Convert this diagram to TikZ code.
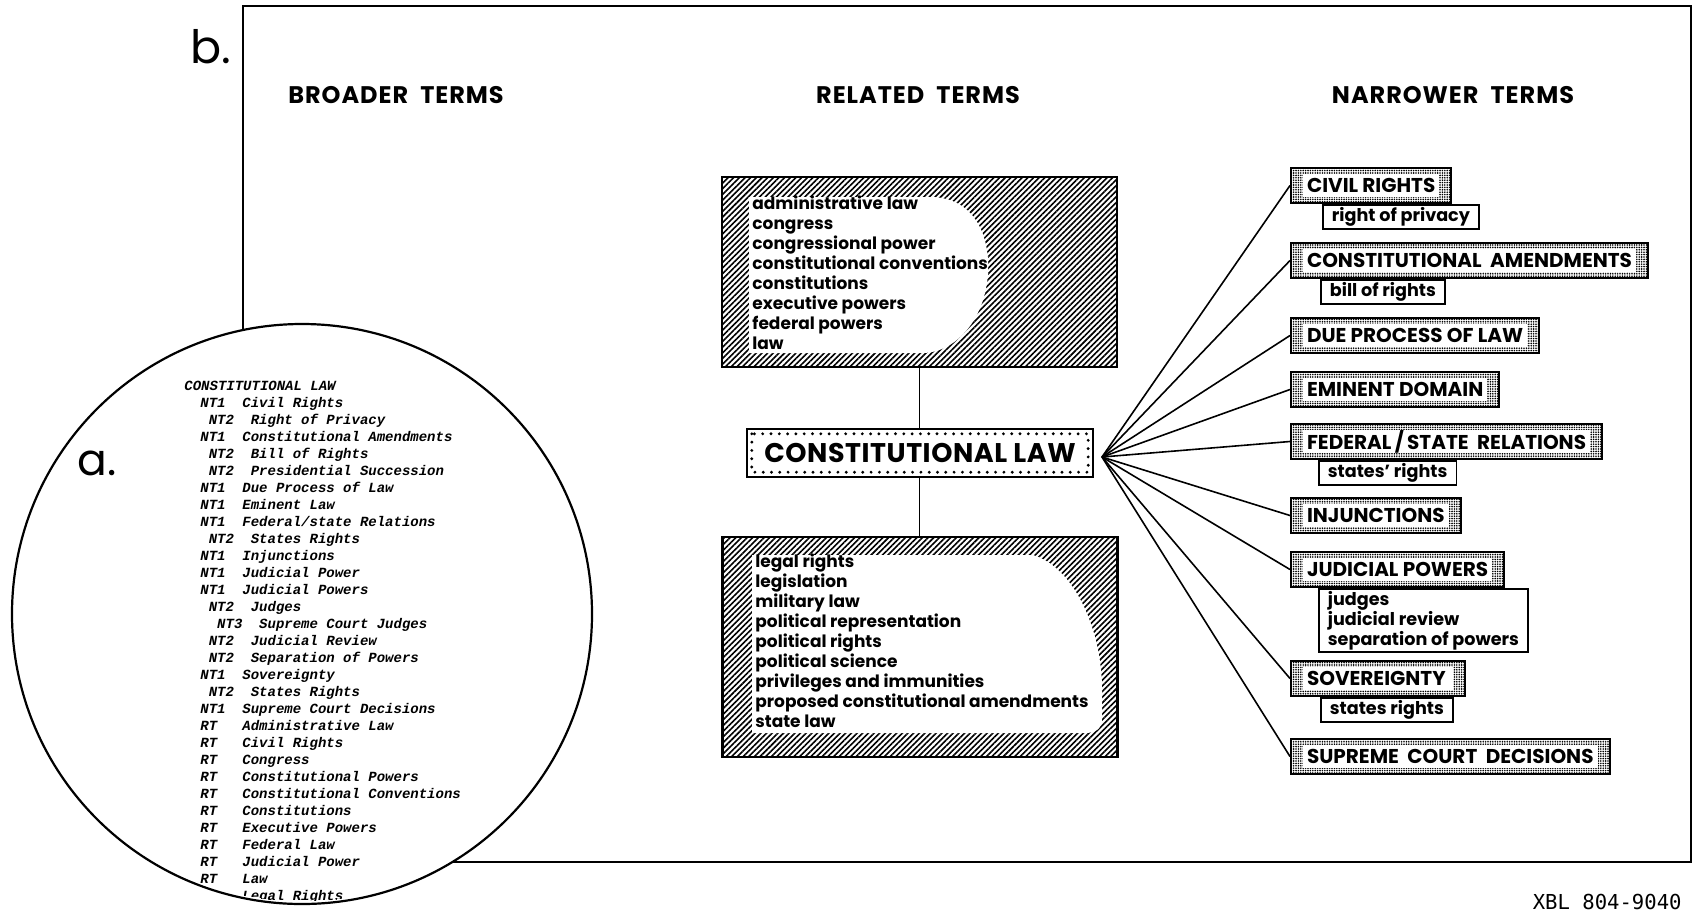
\documentclass[tikz,border=0pt]{standalone}
\usepackage{fontspec}
\setmainfont{Poppins}
\newfontfamily\typewr{Liberation Mono}
\newfontfamily\codefont{DejaVu Sans Mono}
\usetikzlibrary{positioning,patterns.meta}

\begin{document}
\begin{tikzpicture}[
		x=0.5pt,
		y=-0.5pt,
		hatchbox/.style={
			draw,
			line width=1.2pt,
			pattern={Lines[angle=45,distance=2pt,line width=0.8pt]},
			minimum width=197.5pt,
			inner sep=0pt
		},
		item/.style={
			anchor=base west,
			inner sep=0pt,
			font=\bfseries\fontsize{8.5}{10}\selectfont
		},
		ntbox/.style={
			draw,
			line width=1pt,
			anchor=north west,
			pattern={Dots[distance=1.2pt,radius=0.45pt]},
			path picture={
				\fill[white] ([xshift=6pt,yshift=-3pt]path picture bounding box.north west)
					rectangle ([xshift=-6pt,yshift=3pt]path picture bounding box.south east);
			},
			minimum height=17.5pt,
			inner xsep=8pt,
			inner ysep=0pt,
			font=\bfseries\fontsize{10}{12}\selectfont
		},
		subbox/.style={
			draw,
			line width=0.9pt,
			fill=white,
			minimum height=12pt,
			inner xsep=4.5pt,
			inner ysep=1pt,
			align=left,
			font=\bfseries\fontsize{8.8}{10}\selectfont
		},
		clbox/.style={
			draw,
			line width=0.9pt,
			minimum width=173pt,
			minimum height=24pt,
			path picture={
				\draw[line width=1.6pt,line cap=round,dash pattern=on 0pt off 4.15pt]
					([xshift=2.4pt,yshift=-2.4pt]path picture bounding box.north west)
					rectangle ([xshift=-2.4pt,yshift=2.4pt]path picture bounding box.south east);
			},
			font=\bfseries\fontsize{13.5}{16}\selectfont\addfontfeature{LetterSpace=2}
		},
		head/.style={
			font=\bfseries\fontsize{12}{14}\selectfont\addfontfeature{LetterSpace=4}
		},
		thes/.style={
			anchor=base west,
			inner sep=0pt,
			font=\typewr\bfseries\itshape\fontsize{7}{8.5}\selectfont
		},
		conn/.style={line width=0.8pt}
		]
		\useasboundingbox (0,0) rectangle (1693,917);

		% frame of part b
		\draw[line width=1pt] (243,6) rectangle (1691,862);
		\node[anchor=base west,inner sep=0pt,font=\fontsize{23}{26}\selectfont] (lbl-b) at (190,63) {b.};

		\node[head] (broader) at (396,95) {BROADER\ \ TERMS};
		\node[head] (related) at (918,95) {RELATED\ \ TERMS};
		\node[head] (narrower) at (1453,95) {NARROWER\ \ TERMS};

		% related terms
		\node[hatchbox,minimum height=95pt] (rt-up) at (919.5,272) {};
		\fill[white] (749,197) -- (930,197) .. controls (975,197) and (990,237) .. (988,272)
			.. controls (986,317) and (957,353) .. (922,353) -- (749,353) -- cycle;
		\foreach \t [count=\i] in {administrative law,congress,congressional power,
			constitutional conventions,constitutions,executive powers,federal powers,law}
		\node[item] (up-\i) at (752,{209+20*(\i-1)}) {\t};

		\node[hatchbox,minimum height=110pt] (rt-low) at (920,647) {};
		\fill[white] (752,555) -- (1033,555) .. controls (1073,567) and (1101,627) .. (1102,687)
			-- (1102,719) .. controls (1102,729) and (1095,733) .. (1085,733) -- (752,733) -- cycle;
		\foreach \t [count=\i] in {legal rights,legislation,military law,political representation,
			political rights,political science,privileges and immunities,
			proposed constitutional amendments,state law}
		\node[item] (low-\i) at (755,{567+20*(\i-1)}) {\t};

		\node[clbox] (cl) at (920,453) {CONSTITUTIONAL LAW};
		\draw[conn] (rt-up.south) -- (rt-up.south |- cl.north);
		\draw[conn] (rt-up.south |- cl.south) -- (rt-up.south |- rt-low.north);

		% narrower terms
		\foreach \ny/\nt [count=\ni] in {167/CIVIL RIGHTS,242/CONSTITUTIONAL\ \ AMENDMENTS,
			317/DUE PROCESS OF\ LAW,371/EMINENT DOMAIN,423/{FEDERAL\,/\,STATE\ \ RELATIONS},
			497/INJUNCTIONS,551/JUDICIAL POWERS,660/SOVEREIGNTY\,,738/SUPREME\ \ COURT\ \ DECISIONS}
		\node[ntbox] (nt-\ni) at (1290,\ny) {\nt};

		\node[subbox,below right=0pt and 16pt of nt-1.south west] (sub-1) {right of privacy};
		\node[subbox,below right=0pt and 15pt of nt-2.south west] (sub-2) {bill of rights};
		\node[subbox,below right=0pt and 14pt of nt-5.south west] (sub-5) {states’ rights};
		\node[subbox,below right=0pt and 14pt of nt-7.south west] (sub-7) {judges\\judicial review\\separation of powers};
		\node[subbox,below right=0pt and 15pt of nt-8.south west] (sub-8) {states rights};

		\coordinate (hub) at (1102,457);
		\foreach \ni in {1,...,9}
		\draw[conn] (hub) -- (nt-\ni.west);

		% part a, thesaurus print-out
		\coordinate (cc) at (302,614);
		\draw[line width=1.1pt,fill=white] (cc) circle[radius=145pt];
		\node[anchor=base west,inner sep=0pt,font=\fontsize{22}{26}\selectfont] (lbl-a) at (77,475) {a.};
		\begin{scope}
			\clip (cc) circle[radius=143.5pt];
			\node[thes] (title) at (184,390) {CONSTITUTIONAL LAW};
			\foreach \tg/\tm/\lv [count=\i] in {NT1/Civil Rights/0,NT2/Right of Privacy/1,
				NT1/Constitutional Amendments/0,NT2/Bill of Rights/1,NT2/Presidential Succession/1,
				NT1/Due Process of Law/0,NT1/Eminent Law/0,NT1/{Federal/state Relations}/0,
				NT2/States Rights/1,NT1/Injunctions/0,NT1/Judicial Power/0,NT1/Judicial Powers/0,
				NT2/Judges/1,NT3/Supreme Court Judges/2,NT2/Judicial Review/1,
				NT2/Separation of Powers/1,NT1/Sovereignty/0,NT2/States Rights/1,
				NT1/Supreme Court Decisions/0,RT/Administrative Law/0,RT/Civil Rights/0,
				RT/Congress/0,RT/Constitutional Powers/0,RT/Constitutional Conventions/0,
				RT/Constitutions/0,RT/Executive Powers/0,RT/Federal Law/0,RT/Judicial Power/0,
				RT/Law/0,RT/Legal Rights/0}
			{
				\node[thes] (tag-\i) at ({200+8.4*\lv},{390+17*\i}) {\tg};
				\node[thes] (term-\i) at ({242+8.4*\lv},{390+17*\i}) {\tm};
			}
		\end{scope}

		\node[anchor=base east,inner sep=0pt,font=\codefont\fontsize{10.3}{12}\selectfont] (xbl) at (1682,909) {XBL 804-9040};
		\end{tikzpicture}
\end{document}
